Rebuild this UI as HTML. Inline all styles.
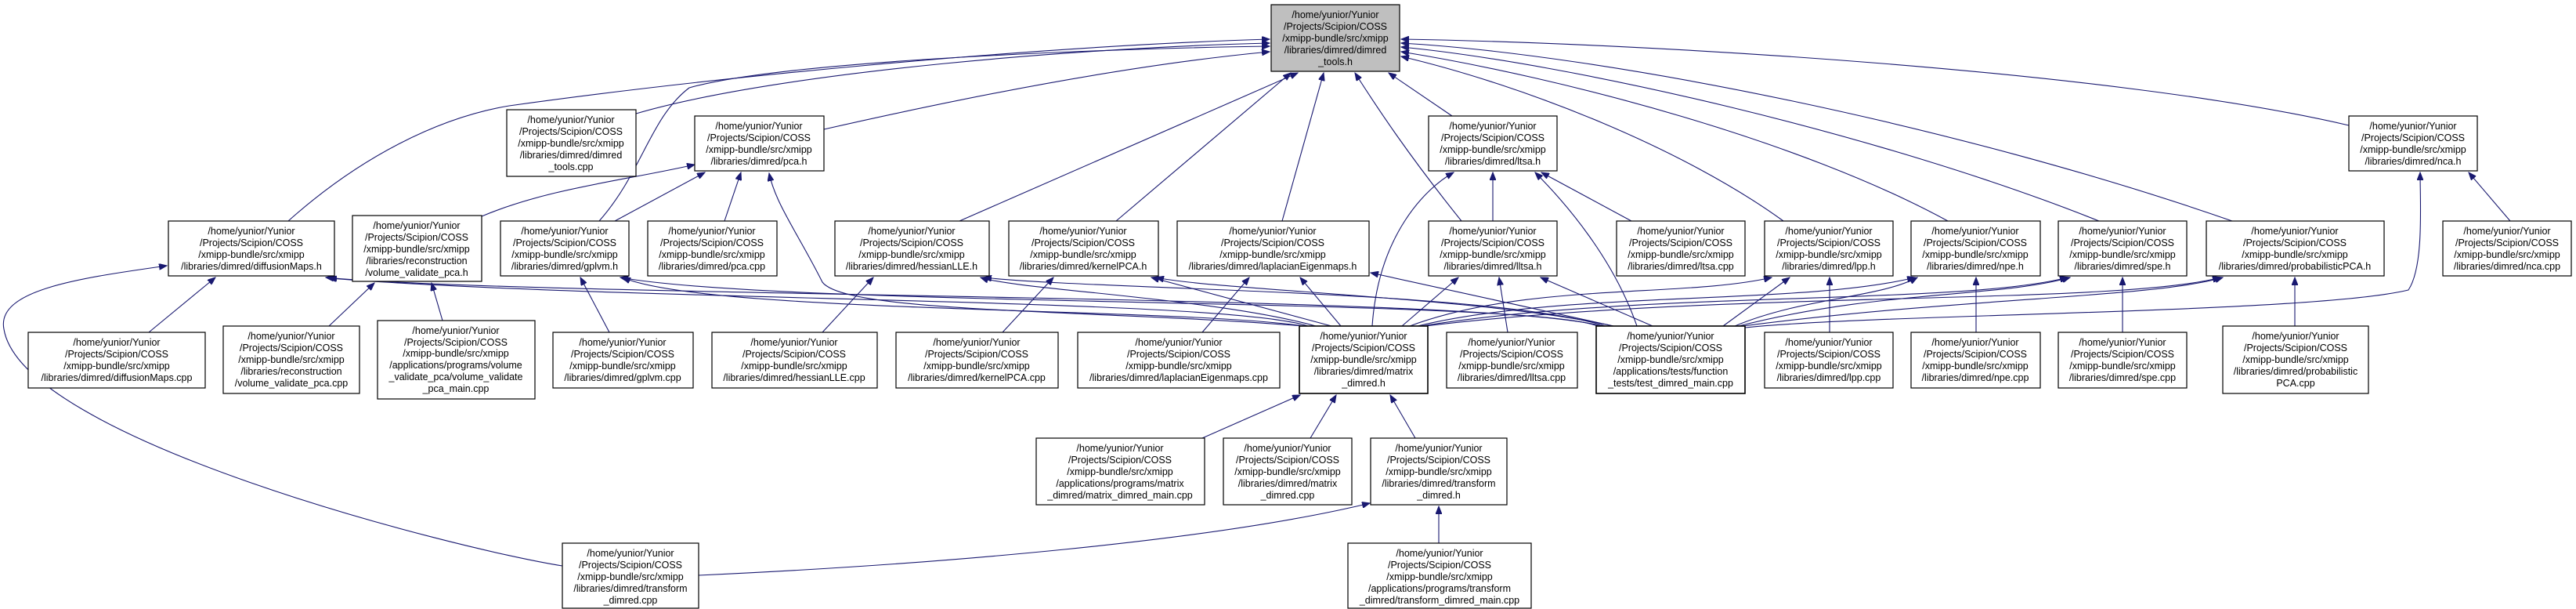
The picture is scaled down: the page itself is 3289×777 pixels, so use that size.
<!DOCTYPE html>
<html><head><meta charset="utf-8"><style>
html,body{margin:0;padding:0;background:#fff}
svg{display:block}
text{font-family:"Liberation Sans",sans-serif;font-size:12.5px;fill:#000;text-anchor:middle}
rect{fill:#fff;stroke:#000;stroke-width:1.2}
path.e{fill:none;stroke:#191970;stroke-width:1.1;marker-end:url(#a)}
</style></head><body>
<svg width="3289" height="777" viewBox="0 0 3289 777" xmlns="http://www.w3.org/2000/svg">
<defs><marker id="a" markerUnits="userSpaceOnUse" markerWidth="11" markerHeight="8" refX="10" refY="4" orient="auto"><path d="M0,0 L10,4 L0,8 z" fill="#191970" stroke="#191970"/></marker></defs>

<!-- edges to tools.h -->
<path class="e" d="M368,282 C460,200 560,150 650,135 C900,100 1300,60 1621,50"/>
<path class="e" d="M812,145 C1000,90 1400,60 1621,55"/>
<path class="e" d="M765,282 C820,220 830,150 880,112 C1000,78 1400,62 1621,59"/>
<path class="e" d="M1052,165 C1250,120 1450,82 1621,66"/>
<path class="e" d="M1225,282 L1657,93"/>
<path class="e" d="M1425,282 L1648,93"/>
<path class="e" d="M1637,282 L1690,93"/>
<path class="e" d="M1866,282 C1800,200 1760,140 1730,93"/>
<path class="e" d="M1854,148 L1773,93"/>
<path class="e" d="M2277,282 C2150,190 1950,110 1789,72"/>
<path class="e" d="M2487,282 C2300,180 2000,100 1789,66"/>
<path class="e" d="M2680,282 C2400,170 2000,80 1789,60"/>
<path class="e" d="M2850,282 C2500,160 2050,70 1789,55"/>
<path class="e" d="M2999,160 C2700,90 2100,55 1789,50"/>

<!-- pca.h -->
<path class="e" d="M615,276 C700,240 800,230 887,210"/>
<path class="e" d="M785,282 L900,220"/>
<path class="e" d="M925,282 L946,220"/>
<path class="e" d="M1665,416 C1400,395 1080,400 1050,360 C1020,300 990,260 982,221"/>

<!-- ltsa.h -->
<path class="e" d="M1752,416 C1760,300 1820,240 1856,220"/>
<path class="e" d="M2090,416 C2060,330 2000,260 1960,220"/>
<path class="e" d="M1906,282 L1906,220"/>
<path class="e" d="M2083,282 L1968,220"/>

<!-- row 282 incoming from matrix / test -->
<path class="e" d="M1670,416 C1560,380 800,385 420,355"/>
<path class="e" d="M2045,416 C1900,375 700,380 416,354"/>
<path class="e" d="M1665,416 C1500,392 900,400 795,354"/>
<path class="e" d="M2040,416 C1950,380 1000,392 792,354"/>
<path class="e" d="M1680,416 C1550,380 1300,370 1252,354"/>
<path class="e" d="M2050,416 C1900,370 1400,370 1256,354"/>
<path class="e" d="M1700,416 L1470,354"/>
<path class="e" d="M2060,416 C1900,380 1550,370 1476,354"/>
<path class="e" d="M1712,416 L1660,354"/>
<path class="e" d="M2060,416 L1750,348"/>
<path class="e" d="M1790,416 L1862,354"/>
<path class="e" d="M2110,416 L1967,354"/>
<path class="e" d="M1925,424 L1914,354"/>
<path class="e" d="M1800,416 C1950,360 2150,380 2262,354"/>
<path class="e" d="M2200,416 L2285,354"/>
<path class="e" d="M2336,424 L2336,354"/>
<path class="e" d="M1810,416 C2000,370 2300,390 2445,354"/>
<path class="e" d="M2215,416 C2300,380 2400,380 2448,354"/>
<path class="e" d="M2523,424 L2523,354"/>
<path class="e" d="M1815,416 C2100,370 2500,390 2640,354"/>
<path class="e" d="M2220,416 C2400,370 2550,380 2643,354"/>
<path class="e" d="M2710,424 L2710,354"/>
<path class="e" d="M1820,416 C2200,370 2700,390 2835,354"/>
<path class="e" d="M2225,416 C2500,380 2750,380 2838,354"/>
<path class="e" d="M2930,416 L2930,354"/>
<path class="e" d="M2228,418 C2400,400 2950,400 3075,370 C3095,340 3090,260 3090,220"/>
<path class="e" d="M3205,282 L3152,220"/>

<!-- lower -->
<path class="e" d="M190,424 L275,354"/>
<path class="e" d="M718,722 C580,700 28,560 5,420 C-5,370 100,355 213,339"/>
<path class="e" d="M420,416 L478,361"/>
<path class="e" d="M565,409 L551,361"/>
<path class="e" d="M778,424 L741,354"/>
<path class="e" d="M1050,424 L1115,354"/>
<path class="e" d="M1280,424 L1345,354"/>
<path class="e" d="M1535,424 L1595,354"/>
<path class="e" d="M1535,559 L1660,504"/>
<path class="e" d="M1673,559 L1706,504"/>
<path class="e" d="M1807,559 L1775,504"/>
<path class="e" d="M892,734 C1200,720 1550,690 1749,642"/>
<path class="e" d="M1837,693 L1837,646"/>

<!-- nodes -->
<g><rect x="1623" y="6" width="164" height="85" style="fill:#bfbfbf"/><text x="1705" y="23">/home/yunior/Yunior</text><text x="1705" y="38">/Projects/Scipion/COSS</text><text x="1705" y="53">/xmipp-bundle/src/xmipp</text><text x="1705" y="68">/libraries/dimred/dimred</text><text x="1705" y="83">_tools.h</text></g>
<g><rect x="647" y="140" width="165" height="85"/><text x="729" y="157">/home/yunior/Yunior</text><text x="729" y="172">/Projects/Scipion/COSS</text><text x="729" y="187">/xmipp-bundle/src/xmipp</text><text x="729" y="202">/libraries/dimred/dimred</text><text x="729" y="217">_tools.cpp</text></g>
<g><rect x="887" y="148" width="165" height="70"/><text x="969" y="165">/home/yunior/Yunior</text><text x="969" y="180">/Projects/Scipion/COSS</text><text x="969" y="195">/xmipp-bundle/src/xmipp</text><text x="969" y="210">/libraries/dimred/pca.h</text></g>
<g><rect x="1824" y="148" width="164" height="70"/><text x="1906" y="165">/home/yunior/Yunior</text><text x="1906" y="180">/Projects/Scipion/COSS</text><text x="1906" y="195">/xmipp-bundle/src/xmipp</text><text x="1906" y="210">/libraries/dimred/ltsa.h</text></g>
<g><rect x="2999" y="148" width="164" height="70"/><text x="3081" y="165">/home/yunior/Yunior</text><text x="3081" y="180">/Projects/Scipion/COSS</text><text x="3081" y="195">/xmipp-bundle/src/xmipp</text><text x="3081" y="210">/libraries/dimred/nca.h</text></g>

<g><rect x="215" y="282" width="212" height="70"/><text x="321" y="299">/home/yunior/Yunior</text><text x="321" y="314">/Projects/Scipion/COSS</text><text x="321" y="329">/xmipp-bundle/src/xmipp</text><text x="321" y="344">/libraries/dimred/diffusionMaps.h</text></g>
<g><rect x="450" y="275" width="165" height="84"/><text x="532" y="292">/home/yunior/Yunior</text><text x="532" y="307">/Projects/Scipion/COSS</text><text x="532" y="322">/xmipp-bundle/src/xmipp</text><text x="532" y="337">/libraries/reconstruction</text><text x="532" y="352">/volume_validate_pca.h</text></g>
<g><rect x="639" y="282" width="164" height="70"/><text x="721" y="299">/home/yunior/Yunior</text><text x="721" y="314">/Projects/Scipion/COSS</text><text x="721" y="329">/xmipp-bundle/src/xmipp</text><text x="721" y="344">/libraries/dimred/gplvm.h</text></g>
<g><rect x="827" y="282" width="165" height="70"/><text x="909" y="299">/home/yunior/Yunior</text><text x="909" y="314">/Projects/Scipion/COSS</text><text x="909" y="329">/xmipp-bundle/src/xmipp</text><text x="909" y="344">/libraries/dimred/pca.cpp</text></g>
<g><rect x="1066" y="282" width="197" height="70"/><text x="1164" y="299">/home/yunior/Yunior</text><text x="1164" y="314">/Projects/Scipion/COSS</text><text x="1164" y="329">/xmipp-bundle/src/xmipp</text><text x="1164" y="344">/libraries/dimred/hessianLLE.h</text></g>
<g><rect x="1288" y="282" width="191" height="70"/><text x="1383" y="299">/home/yunior/Yunior</text><text x="1383" y="314">/Projects/Scipion/COSS</text><text x="1383" y="329">/xmipp-bundle/src/xmipp</text><text x="1383" y="344">/libraries/dimred/kernelPCA.h</text></g>
<g><rect x="1503" y="282" width="245" height="70"/><text x="1625" y="299">/home/yunior/Yunior</text><text x="1625" y="314">/Projects/Scipion/COSS</text><text x="1625" y="329">/xmipp-bundle/src/xmipp</text><text x="1625" y="344">/libraries/dimred/laplacianEigenmaps.h</text></g>
<g><rect x="1824" y="282" width="164" height="70"/><text x="1906" y="299">/home/yunior/Yunior</text><text x="1906" y="314">/Projects/Scipion/COSS</text><text x="1906" y="329">/xmipp-bundle/src/xmipp</text><text x="1906" y="344">/libraries/dimred/lltsa.h</text></g>
<g><rect x="2064" y="282" width="164" height="70"/><text x="2146" y="299">/home/yunior/Yunior</text><text x="2146" y="314">/Projects/Scipion/COSS</text><text x="2146" y="329">/xmipp-bundle/src/xmipp</text><text x="2146" y="344">/libraries/dimred/ltsa.cpp</text></g>
<g><rect x="2253" y="282" width="164" height="70"/><text x="2335" y="299">/home/yunior/Yunior</text><text x="2335" y="314">/Projects/Scipion/COSS</text><text x="2335" y="329">/xmipp-bundle/src/xmipp</text><text x="2335" y="344">/libraries/dimred/lpp.h</text></g>
<g><rect x="2440" y="282" width="165" height="70"/><text x="2522" y="299">/home/yunior/Yunior</text><text x="2522" y="314">/Projects/Scipion/COSS</text><text x="2522" y="329">/xmipp-bundle/src/xmipp</text><text x="2522" y="344">/libraries/dimred/npe.h</text></g>
<g><rect x="2628" y="282" width="164" height="70"/><text x="2710" y="299">/home/yunior/Yunior</text><text x="2710" y="314">/Projects/Scipion/COSS</text><text x="2710" y="329">/xmipp-bundle/src/xmipp</text><text x="2710" y="344">/libraries/dimred/spe.h</text></g>
<g><rect x="2817" y="282" width="227" height="70"/><text x="2930" y="299">/home/yunior/Yunior</text><text x="2930" y="314">/Projects/Scipion/COSS</text><text x="2930" y="329">/xmipp-bundle/src/xmipp</text><text x="2930" y="344">/libraries/dimred/probabilisticPCA.h</text></g>
<g><rect x="3119" y="282" width="164" height="70"/><text x="3201" y="299">/home/yunior/Yunior</text><text x="3201" y="314">/Projects/Scipion/COSS</text><text x="3201" y="329">/xmipp-bundle/src/xmipp</text><text x="3201" y="344">/libraries/dimred/nca.cpp</text></g>

<g><rect x="36" y="424" width="226" height="71"/><text x="149" y="441">/home/yunior/Yunior</text><text x="149" y="456">/Projects/Scipion/COSS</text><text x="149" y="471">/xmipp-bundle/src/xmipp</text><text x="149" y="486">/libraries/dimred/diffusionMaps.cpp</text></g>
<g><rect x="285" y="416" width="174" height="86"/><text x="372" y="433">/home/yunior/Yunior</text><text x="372" y="448">/Projects/Scipion/COSS</text><text x="372" y="463">/xmipp-bundle/src/xmipp</text><text x="372" y="478">/libraries/reconstruction</text><text x="372" y="493">/volume_validate_pca.cpp</text></g>
<g><rect x="482" y="409" width="201" height="100"/><text x="582" y="426">/home/yunior/Yunior</text><text x="582" y="441">/Projects/Scipion/COSS</text><text x="582" y="455">/xmipp-bundle/src/xmipp</text><text x="582" y="470">/applications/programs/volume</text><text x="582" y="485">_validate_pca/volume_validate</text><text x="582" y="500">_pca_main.cpp</text></g>
<g><rect x="706" y="424" width="179" height="71"/><text x="795" y="441">/home/yunior/Yunior</text><text x="795" y="456">/Projects/Scipion/COSS</text><text x="795" y="471">/xmipp-bundle/src/xmipp</text><text x="795" y="486">/libraries/dimred/gplvm.cpp</text></g>
<g><rect x="909" y="424" width="211" height="71"/><text x="1014" y="441">/home/yunior/Yunior</text><text x="1014" y="456">/Projects/Scipion/COSS</text><text x="1014" y="471">/xmipp-bundle/src/xmipp</text><text x="1014" y="486">/libraries/dimred/hessianLLE.cpp</text></g>
<g><rect x="1144" y="424" width="207" height="71"/><text x="1247" y="441">/home/yunior/Yunior</text><text x="1247" y="456">/Projects/Scipion/COSS</text><text x="1247" y="471">/xmipp-bundle/src/xmipp</text><text x="1247" y="486">/libraries/dimred/kernelPCA.cpp</text></g>
<g><rect x="1376" y="424" width="258" height="71"/><text x="1505" y="441">/home/yunior/Yunior</text><text x="1505" y="456">/Projects/Scipion/COSS</text><text x="1505" y="471">/xmipp-bundle/src/xmipp</text><text x="1505" y="486">/libraries/dimred/laplacianEigenmaps.cpp</text></g>
<g><rect x="1659" y="416" width="164" height="86" style="stroke-width:1.6"/><text x="1741" y="433">/home/yunior/Yunior</text><text x="1741" y="448">/Projects/Scipion/COSS</text><text x="1741" y="463">/xmipp-bundle/src/xmipp</text><text x="1741" y="478">/libraries/dimred/matrix</text><text x="1741" y="493">_dimred.h</text></g>
<g><rect x="1847" y="424" width="167" height="71"/><text x="1930" y="441">/home/yunior/Yunior</text><text x="1930" y="456">/Projects/Scipion/COSS</text><text x="1930" y="471">/xmipp-bundle/src/xmipp</text><text x="1930" y="486">/libraries/dimred/lltsa.cpp</text></g>
<g><rect x="2038" y="416" width="190" height="86" style="stroke-width:1.6"/><text x="2133" y="433">/home/yunior/Yunior</text><text x="2133" y="448">/Projects/Scipion/COSS</text><text x="2133" y="463">/xmipp-bundle/src/xmipp</text><text x="2133" y="478">/applications/tests/function</text><text x="2133" y="493">_tests/test_dimred_main.cpp</text></g>
<g><rect x="2253" y="424" width="164" height="71"/><text x="2335" y="441">/home/yunior/Yunior</text><text x="2335" y="456">/Projects/Scipion/COSS</text><text x="2335" y="471">/xmipp-bundle/src/xmipp</text><text x="2335" y="486">/libraries/dimred/lpp.cpp</text></g>
<g><rect x="2440" y="424" width="165" height="71"/><text x="2522" y="441">/home/yunior/Yunior</text><text x="2522" y="456">/Projects/Scipion/COSS</text><text x="2522" y="471">/xmipp-bundle/src/xmipp</text><text x="2522" y="486">/libraries/dimred/npe.cpp</text></g>
<g><rect x="2628" y="424" width="164" height="71"/><text x="2710" y="441">/home/yunior/Yunior</text><text x="2710" y="456">/Projects/Scipion/COSS</text><text x="2710" y="471">/xmipp-bundle/src/xmipp</text><text x="2710" y="486">/libraries/dimred/spe.cpp</text></g>
<g><rect x="2838" y="416" width="186" height="86"/><text x="2931" y="433">/home/yunior/Yunior</text><text x="2931" y="448">/Projects/Scipion/COSS</text><text x="2931" y="463">/xmipp-bundle/src/xmipp</text><text x="2931" y="478">/libraries/dimred/probabilistic</text><text x="2931" y="493">PCA.cpp</text></g>

<g><rect x="1323" y="559" width="215" height="85"/><text x="1430" y="576">/home/yunior/Yunior</text><text x="1430" y="591">/Projects/Scipion/COSS</text><text x="1430" y="606">/xmipp-bundle/src/xmipp</text><text x="1430" y="621">/applications/programs/matrix</text><text x="1430" y="636">_dimred/matrix_dimred_main.cpp</text></g>
<g><rect x="1562" y="559" width="164" height="85"/><text x="1644" y="576">/home/yunior/Yunior</text><text x="1644" y="591">/Projects/Scipion/COSS</text><text x="1644" y="606">/xmipp-bundle/src/xmipp</text><text x="1644" y="621">/libraries/dimred/matrix</text><text x="1644" y="636">_dimred.cpp</text></g>
<g><rect x="1750" y="559" width="174" height="85"/><text x="1837" y="576">/home/yunior/Yunior</text><text x="1837" y="591">/Projects/Scipion/COSS</text><text x="1837" y="606">/xmipp-bundle/src/xmipp</text><text x="1837" y="621">/libraries/dimred/transform</text><text x="1837" y="636">_dimred.h</text></g>
<g><rect x="718" y="693" width="174" height="83"/><text x="805" y="710">/home/yunior/Yunior</text><text x="805" y="725">/Projects/Scipion/COSS</text><text x="805" y="740">/xmipp-bundle/src/xmipp</text><text x="805" y="755">/libraries/dimred/transform</text><text x="805" y="770">_dimred.cpp</text></g>
<g><rect x="1721" y="693" width="234" height="83"/><text x="1838" y="710">/home/yunior/Yunior</text><text x="1838" y="725">/Projects/Scipion/COSS</text><text x="1838" y="740">/xmipp-bundle/src/xmipp</text><text x="1838" y="755">/applications/programs/transform</text><text x="1838" y="770">_dimred/transform_dimred_main.cpp</text></g>
</svg>
</body></html>
